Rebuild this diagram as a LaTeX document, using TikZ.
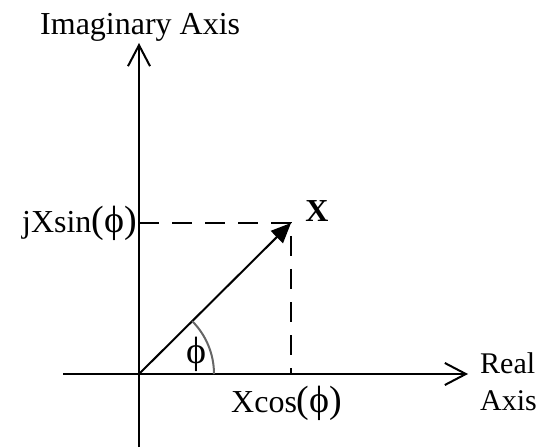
\documentclass[tikz,border=0pt]{standalone}
\usepackage{fontspec}
\setmainfont{Liberation Serif}
\newcommand{\pphi}{{\fontsize{38}{40}\selectfont(ϕ)}}
\usetikzlibrary{arrows.meta,calc}
\begin{document}
\begin{tikzpicture}[x=1pt,y=1pt,
  axis/.style={line width=2pt,-{Straight Barb[length=21pt,width=22pt,line width=2pt]}},
  vec/.style={line width=2pt,-{Triangle[length=20pt,width=17pt]}},
  dsh/.style={line width=2pt,dash pattern=on 20pt off 13pt},
  lbl/.style={inner sep=0pt,font=\fontsize{32}{36}\selectfont},
  ang/.style={line width=2pt,draw=black!60}]
\useasboundingbox (0,0) rectangle (537,447);
\coordinate (O) at (139,73);
\coordinate (P) at (291,224);
\coordinate (ytop) at (139,404);
\coordinate (ybot) at (139,0);
\coordinate (xleft) at (63,73);
\coordinate (xright) at (468,73);
\coordinate (Px) at (291,73);
\coordinate (Py) at (139,224);
\draw[axis] (ybot) -- (ytop);
\draw[axis] (xleft) -- (xright);
\draw[dsh] (Py) -- (P) -- (Px);
\draw[vec] (O) -- (P);
\draw[ang] ($(O)+(75,0)$) arc[start angle=0,end angle=44.8,radius=75];
\node[lbl,anchor=base east] (js) at (137,214) {jXsin\pphi};
\node[lbl,anchor=base,font=\fontsize{32}{36}\selectfont\bfseries] (X) at (317,225) {X};
\node[lbl,anchor=base,font=\fontsize{38}{40}\selectfont] (phi) at (196,84) {ϕ};
\node[lbl,anchor=base west] (xc) at (231,35) {Xcos\pphi};
\node[lbl,anchor=base west] (ia) at (40,412) {Imaginary Axis};
\node[lbl,anchor=base west,font=\fontsize{30}{34}\selectfont] (re) at (480,74) {Real};
\node[lbl,anchor=base west,font=\fontsize{30}{34}\selectfont] (ax) at (480,37) {Axis};
\end{tikzpicture}
\end{document}
